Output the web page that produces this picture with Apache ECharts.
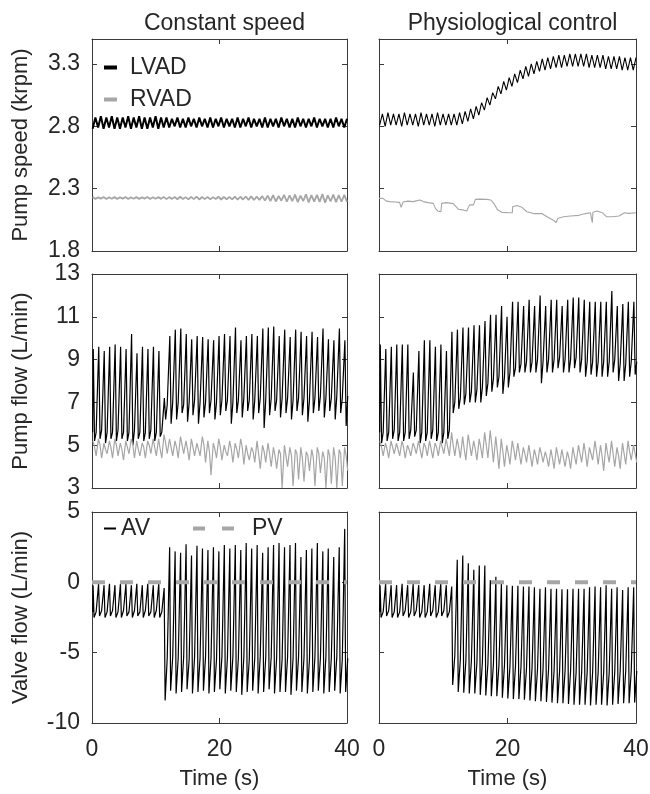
<!DOCTYPE html>
<html><head><meta charset="utf-8">
<script src="https://cdn.jsdelivr.net/npm/echarts@6.0.0/dist/echarts.min.js"></script>
<style>html,body{margin:0;padding:0;background:#fff}#c{width:650px;height:794px}</style>
</head><body><div id="c"></div>
<script>
// ---------------- data ----------------
const columnTitles = ['Constant speed', 'Physiological control'];
const rowNames = ['Pump speed (krpm)', 'Pump flow (L/min)', 'Valve flow (L/min)'];
const xTicks = [0, 20, 40];
const speedTicks = [1.8, 2.3, 2.8, 3.3];
const flowTicks = [3, 5, 7, 9, 11, 13];
const valveTicks = [-10, -5, 0, 5];

// beat onset times (s)
const beatT = [0.10,0.96,1.82,2.67,3.53,4.39,5.25,6.11,6.96,7.82,8.68,9.54,10.40,11.25,12.11,12.97,13.83,14.69,15.54,16.40,17.26,18.12,18.98,19.83,20.69,21.55,22.41,23.27,24.12,24.98,25.84,26.70,27.56,28.41,29.27,30.13,30.99,31.85,32.70,33.56,34.42,35.28,36.14,36.99,37.85,38.71,39.57];

// --- constant speed: pump speed (krpm), per beat high / low
const lvadSpdHiCS = [2.87,2.88,2.87,2.88,2.87,2.87,2.88,2.87,2.88,2.87,2.87,2.88,2.87,2.87,2.86,2.87,2.86,2.87,2.86,2.87,2.86,2.87,2.86,2.87,2.86,2.86,2.87,2.86,2.87,2.86,2.86,2.87,2.86,2.86,2.87,2.86,2.86,2.87,2.86,2.86,2.87,2.86,2.86,2.86,2.87,2.86,2.86];
const lvadSpdLoCS = [2.78,2.79,2.78,2.79,2.78,2.78,2.79,2.78,2.79,2.78,2.78,2.79,2.78,2.79,2.79,2.80,2.79,2.79,2.80,2.79,2.80,2.79,2.79,2.80,2.79,2.80,2.79,2.79,2.80,2.79,2.80,2.79,2.79,2.80,2.79,2.80,2.79,2.79,2.80,2.79,2.80,2.79,2.80,2.79,2.79,2.80,2.79];
const rvadSpdHiCS = [2.232,2.230,2.233,2.231,2.232,2.230,2.233,2.231,2.232,2.230,2.233,2.231,2.232,2.234,2.232,2.233,2.235,2.232,2.234,2.236,2.233,2.234,2.232,2.235,2.233,2.234,2.236,2.235,2.237,2.238,2.236,2.240,2.244,2.248,2.242,2.250,2.246,2.252,2.244,2.255,2.248,2.250,2.256,2.246,2.252,2.248,2.250];
const rvadSpdLoCS = [2.218,2.220,2.217,2.219,2.218,2.220,2.217,2.219,2.218,2.220,2.217,2.219,2.218,2.216,2.218,2.215,2.217,2.214,2.216,2.213,2.216,2.214,2.217,2.213,2.215,2.214,2.212,2.213,2.210,2.209,2.210,2.205,2.200,2.197,2.203,2.195,2.199,2.192,2.200,2.190,2.196,2.194,2.188,2.198,2.192,2.195,2.194];

// --- physiological control: pump speed
const lvadSpdHiPC = [2.90,2.91,2.90,2.90,2.91,2.90,2.90,2.91,2.90,2.90,2.91,2.90,2.90,2.90,2.91,2.92,2.94,2.96,2.99,3.03,3.07,3.12,3.16,3.19,3.22,3.25,3.28,3.30,3.32,3.34,3.35,3.36,3.37,3.37,3.38,3.38,3.38,3.38,3.37,3.37,3.37,3.36,3.36,3.36,3.35,3.35,3.35];
const lvadSpdLoPC = [2.81,2.80,2.81,2.81,2.80,2.81,2.81,2.80,2.81,2.81,2.80,2.81,2.81,2.81,2.81,2.82,2.84,2.86,2.89,2.93,2.97,3.02,3.06,3.09,3.12,3.15,3.18,3.20,3.22,3.24,3.25,3.26,3.27,3.27,3.28,3.28,3.28,3.28,3.27,3.27,3.27,3.26,3.26,3.26,3.25,3.25,3.25];
const rvadSpdTimePC = [0,0.6,1.15,1.7,2.45,3.2,3.45,3.5,3.75,4.5,5.3,6.35,6.9,7.65,8.45,8.8,9.2,9.65,9.75,10.5,11.55,12.35,13.0,13.65,13.95,14.1,14.7,14.95,15.0,15.7,16.75,17.4,17.9,18.45,19.1,20.4,20.75,20.8,21.45,22.25,23.0,24.05,25.35,26.15,27.2,27.55,27.85,28.75,29.8,31.1,32.15,32.9,33.1,33.2,33.3,33.55,33.95,34.75,35.4,36.3,37.35,38.2,38.9,40];
const rvadSpdPC = [2.222,2.222,2.20,2.196,2.193,2.19,2.15,2.15,2.193,2.20,2.196,2.209,2.196,2.188,2.182,2.14,2.12,2.115,2.182,2.188,2.18,2.135,2.13,2.12,2.11,2.17,2.17,2.17,2.214,2.216,2.214,2.209,2.18,2.13,2.11,2.107,2.107,2.155,2.165,2.15,2.115,2.10,2.10,2.075,2.045,2.027,2.062,2.075,2.081,2.086,2.10,2.107,2.107,2.027,2.11,2.115,2.12,2.107,2.075,2.075,2.081,2.107,2.102,2.107];

// --- constant speed: pump flow (L/min)
const lvadFlowPeakCS = [9.5,9.6,9.4,9.6,9.7,9.6,9.5,10.2,9.3,9.6,9.5,9.6,9.4,7.2,10.1,10.4,10.45,10.2,9.95,10.1,10.05,9.95,9.9,10.1,10.2,10.1,10.5,9.9,10.1,10.2,10.1,10.45,10.5,10.55,10.1,10.4,10.05,10.4,10.3,10.1,10.3,10.05,10.45,9.95,9.9,10.45,9.9];
const lvadFlowTroughCS = [5.2,5.3,5.1,5.3,5.2,5.3,5.2,5.0,5.3,5.2,5.3,5.2,5.4,6.2,6.0,6.2,6.5,6.1,6.4,6.0,6.3,6.5,6.2,6.4,6.6,6.0,6.5,6.3,6.6,6.2,6.5,5.8,6.4,6.6,6.3,6.5,6.2,6.6,6.4,6.1,6.5,6.6,6.3,6.6,6.2,6.5,5.9];
const lvadFlowBaseCS = [5.6,5.7,5.6,5.6,5.7,5.6,5.6,5.7,5.6,5.6,5.7,5.6,5.6,6.9,7.0,7.0,6.9,7.0,7.1,7.0,7.0,7.1,7.0,7.1,7.1,7.0,7.1,7.2,7.1,7.1,7.2,7.1,7.2,7.1,7.2,7.2,7.1,7.2,7.2,7.1,7.2,7.3,7.2,7.2,7.3,7.2,7.3];
const rvadFlowHiCS = [5.2,5.3,5.1,5.2,5.3,5.1,5.2,5.3,5.2,5.1,5.2,5.3,5.3,5.5,5.3,5.2,5.4,5.2,5.3,5.1,5.4,5.2,5.1,5.3,5.0,5.2,5.1,5.3,5.0,4.9,5.2,5.0,5.1,4.9,4.8,5.0,4.9,4.8,4.9,4.7,4.8,4.9,4.7,4.8,4.9,4.8,4.9];
const rvadFlowMidCS = [4.9,5.0,4.8,4.9,5.0,4.8,4.9,5.0,4.8,4.9,5.0,4.9,4.8,5.1,4.9,4.9,5.0,4.8,4.9,4.8,5.0,4.7,4.8,4.9,4.7,4.8,4.8,4.9,4.6,4.7,4.6,4.7,4.6,4.5,4.6,4.5,4.5,4.6,4.4,4.5,4.4,4.6,4.4,4.5,4.4,4.6,4.5];
const rvadFlowLoCS = [4.5,4.4,4.6,4.4,4.5,4.3,4.6,4.4,4.5,4.4,4.6,4.5,4.4,4.6,4.5,4.4,4.6,4.3,4.5,4.5,4.2,3.6,4.4,4.3,4.5,4.2,4.4,4.1,4.3,4.2,3.9,4.2,4.0,3.9,3.0,4.0,3.1,3.4,3.3,3.8,3.1,3.7,3.0,3.2,3.0,3.1,3.8];

// --- physiological control: pump flow
const lvadFlowPeakPC = [9.7,9.5,9.6,9.7,9.7,9.7,8.4,9.4,9.9,9.9,9.6,9.7,9.4,10.3,10.4,10.5,10.5,10.6,10.6,10.8,11.1,11.1,11.5,11.0,11.7,11.7,11.5,11.8,11.5,12.0,11.5,11.8,11.8,11.5,11.8,11.9,11.9,11.8,11.7,11.7,11.7,11.7,12.2,11.5,11.6,11.7,11.7];
const lvadFlowTroughPC = [5.1,5.2,5.3,5.2,5.2,5.3,5.4,5.1,5.2,5.3,5.2,5.1,5.3,6.5,6.7,6.9,7.0,7.0,7.0,7.3,7.5,7.7,7.4,7.7,8.2,8.4,8.4,8.4,8.4,7.9,8.4,8.4,8.6,8.4,8.4,8.6,8.4,8.2,8.3,8.2,8.2,8.2,8.4,8.0,8.0,8.2,8.3];
const lvadFlowBasePC = [5.6,5.6,5.7,5.6,5.6,5.7,5.7,5.6,5.6,5.7,5.6,5.6,5.7,7.0,7.2,7.4,7.5,7.6,7.7,7.9,8.1,8.2,8.2,8.4,8.6,8.8,8.9,8.9,9.0,8.9,9.0,9.0,9.1,9.0,9.0,9.1,9.0,8.9,8.9,8.9,8.9,8.9,9.0,8.8,8.8,8.9,8.9];
const rvadFlowHiPC = [5.2,5.1,5.2,5.1,5.2,5.0,5.1,5.2,5.1,5.2,5.1,5.2,5.3,5.6,5.3,5.4,5.5,5.2,5.3,5.6,5.7,5.4,5.3,5.0,5.2,5.1,4.9,5.0,4.8,4.9,4.7,4.8,4.9,4.8,4.7,4.9,5.0,5.1,4.9,5.2,5.0,5.1,5.2,4.9,5.1,5.2,5.0];
const rvadFlowMidPC = [4.9,4.8,4.9,4.8,4.9,4.8,4.9,4.8,4.9,4.8,4.9,4.9,4.9,5.0,4.9,4.8,5.0,4.8,4.9,5.0,5.0,4.7,4.7,4.6,4.8,4.6,4.6,4.5,4.5,4.6,4.4,4.4,4.5,4.4,4.4,4.5,4.6,4.6,4.6,4.7,4.5,4.6,4.6,4.5,4.6,4.7,4.6];
const rvadFlowLoPC = [4.5,4.4,4.6,4.5,4.4,4.5,4.6,4.4,4.5,4.4,4.5,4.6,4.5,4.5,4.4,4.3,4.5,4.3,4.4,4.4,4.2,3.9,4.0,4.1,4.3,4.1,4.2,4.0,4.1,4.2,4.0,3.9,4.1,4.0,3.9,4.1,4.2,4.0,4.3,4.1,3.8,4.2,4.0,3.9,4.1,4.3,4.2];

// --- constant speed: valve flow (L/min)
const avPeakCS = [-0.2,-0.1,-0.2,-0.1,-0.2,-0.1,-0.1,-0.2,-0.1,-0.2,-0.1,-0.2,-0.1,-0.4,2.5,2.2,2.1,2.7,1.9,2.6,2.4,2.3,2.5,2.2,2.65,2.4,2.65,2.3,2.8,2.4,2.65,2.1,2.5,2.65,2.8,2.5,2.65,2.8,1.8,2.3,2.4,2.8,2.2,2.4,1.8,2.5,3.8];
const avTroughCS = [-2.5,-2.4,-2.5,-2.4,-2.5,-2.5,-2.4,-2.5,-2.4,-2.5,-2.4,-2.5,-2.5,-8.4,-7.7,-7.9,-7.8,-7.6,-7.9,-7.8,-7.7,-7.9,-7.8,-7.6,-7.9,-7.7,-7.8,-8.0,-7.8,-7.7,-7.9,-7.8,-7.6,-7.9,-7.8,-7.8,-8.0,-7.7,-7.8,-7.9,-7.8,-7.7,-7.9,-7.8,-7.7,-7.9,-7.8];
const avBaseCS = [-2.1,-2.0,-2.1,-2.0,-2.1,-2.0,-2.1,-2.0,-2.1,-2.0,-2.1,-2.0,-2.1,-5.4,-5.3,-5.4,-5.3,-5.5,-5.3,-5.4,-5.3,-5.4,-5.5,-5.3,-5.4,-5.3,-5.4,-5.3,-5.5,-5.4,-5.3,-5.4,-5.3,-5.4,-5.5,-5.3,-5.4,-5.3,-5.4,-5.5,-5.3,-5.4,-5.3,-5.4,-5.3,-5.5,-5.4];
// --- physiological control: valve flow
const avPeakPC = [-0.2,-0.1,-0.2,-0.2,-0.1,-0.2,-0.1,-0.2,-0.2,-0.1,-0.2,-0.1,-0.2,-0.3,1.6,1.9,1.35,0.9,1.2,1.2,0.15,0.4,-0.1,-0.2,-0.25,-0.25,-0.3,-0.3,-0.35,-0.45,-0.35,-0.45,-0.45,-0.5,-0.5,-0.45,-0.45,-0.45,-0.35,-0.3,-0.35,-0.2,-0.45,-0.35,-0.55,-0.35,-0.35];
const avTroughPC = [-2.5,-2.4,-2.5,-2.5,-2.4,-2.5,-2.4,-2.5,-2.5,-2.4,-2.5,-2.4,-2.5,-7.3,-7.8,-7.85,-7.9,-7.9,-8.0,-8.05,-8.1,-8.1,-8.2,-8.25,-8.3,-8.3,-8.35,-8.4,-8.45,-8.45,-8.5,-8.55,-8.6,-8.6,-8.65,-8.7,-8.7,-8.7,-8.75,-8.7,-8.7,-8.75,-8.7,-8.65,-8.6,-8.6,-8.55];
const avBasePC = [-2.1,-2.0,-2.1,-2.1,-2.0,-2.1,-2.0,-2.1,-2.1,-2.0,-2.1,-2.0,-2.1,-5.2,-5.5,-5.6,-5.6,-5.7,-5.7,-5.8,-5.8,-5.9,-5.9,-6.0,-6.0,-6.0,-6.1,-6.1,-6.2,-6.2,-6.2,-6.3,-6.3,-6.3,-6.3,-6.4,-6.4,-6.4,-6.4,-6.4,-6.4,-6.4,-6.4,-6.3,-6.3,-6.3,-6.3];
// pulmonary valve flow (closed, 0)
const pvTime = [0, 40];
const pvFlow = [0, 0];

// ---------------- helpers to assemble line data ----------------
function pulse(T, base, peak, trough, dp, dt, db) {
  const out = []; let prev = base[0];
  for (let i = 0; i < T.length; i++) {
    out.push([T[i], prev], [T[i] + dp, peak[i]], [T[i] + dt, trough[i]], [T[i] + db, base[i]]);
    prev = base[i];
  }
  return out;
}
function zig(T, a, b, d) {
  const out = [];
  for (let i = 0; i < T.length; i++) out.push([T[i], a[i]], [T[i] + d, b[i]]);
  return out;
}
function wob(T, hi, mid, lo) {
  const out = [];
  for (let i = 0; i < T.length; i++) out.push([T[i] + 0.05, hi[i]], [T[i] + 0.3, mid[i]], [T[i] + 0.55, lo[i]]);
  return out;
}
function pairs(t, v) { return t.map((x, i) => [x, v[i]]); }

// ---------------- chart ----------------
const FONT = 'Liberation Sans';
const TXT = '#262626';
const AX = '#3a3a3a';
const BLACK = '#000000';
const GRAY = '#a6a6a6';
const chart = echarts.init(document.getElementById('c'), null, {renderer: 'canvas'});

const gridPos = [
  {left: 92, top: 39, width: 255, height: 212}, {left: 379, top: 39, width: 257, height: 212},
  {left: 92, top: 274, width: 255, height: 214}, {left: 379, top: 274, width: 257, height: 214},
  {left: 92, top: 512, width: 255, height: 211}, {left: 379, top: 512, width: 257, height: 211}
];
const rowCfg = [
  {min: 1.8, max: 3.5, ticks: speedTicks, fmt: v => v.toFixed(1)},
  {min: 3, max: 13, ticks: flowTicks, fmt: v => String(v)},
  {min: -10, max: 5, ticks: valveTicks, fmt: v => String(v)}
];
const grid = [], xAxis = [], yAxis = [];
for (let p = 0; p < 6; p++) {
  const row = Math.floor(p / 2), col = p % 2;
  grid.push(Object.assign({containLabel: false, outerBoundsMode: 'none'}, gridPos[p]));
  const line = {show: true, onZero: false, lineStyle: {color: AX, width: 1}};
  const tick = {show: true, inside: true, length: 5, lineStyle: {color: AX, width: 1}};
  const bottom = row === 2;
  xAxis.push({
    type: 'value', gridIndex: p, position: 'bottom', min: 0, max: 40, interval: 20,
    axisLine: line, axisTick: tick, splitLine: {show: false},
    axisLabel: {show: bottom, margin: 15, fontSize: 23, color: TXT, fontFamily: FONT, customValues: xTicks},
    name: bottom ? 'Time (s)' : '', nameLocation: 'middle', nameGap: 45,
    nameTextStyle: {fontSize: 22, color: TXT, fontFamily: FONT}
  });
  xAxis.push({
    type: 'value', gridIndex: p, position: 'top', min: 0, max: 40, interval: 20,
    axisLine: line, axisTick: tick, splitLine: {show: false}, axisLabel: {show: false}
  });
  const rc = rowCfg[row];
  yAxis.push({
    type: 'value', gridIndex: p, position: 'left', min: rc.min, max: rc.max,
    axisLine: line, axisTick: Object.assign({customValues: rc.ticks}, tick), splitLine: {show: false},
    axisLabel: {show: col === 0, customValues: rc.ticks, formatter: rc.fmt, margin: 12, fontSize: 23, color: TXT, fontFamily: FONT},
    name: col === 0 ? rowNames[row] : '', nameLocation: 'middle', nameRotate: 90, nameGap: 60,
    nameTextStyle: {fontSize: 22, color: TXT, fontFamily: FONT}
  });
  yAxis.push({
    type: 'value', gridIndex: p, position: 'right', min: rc.min, max: rc.max,
    axisLine: line, axisTick: Object.assign({customValues: rc.ticks}, tick), splitLine: {show: false},
    axisLabel: {show: false, customValues: rc.ticks}
  });
}

function ser(name, p, data, color, width, extra) {
  return Object.assign({
    type: 'line', name: name, xAxisIndex: 2 * p, yAxisIndex: 2 * p, data: data,
    symbol: 'none', showSymbol: false, silent: true, clip: true, animation: false,
    lineStyle: {color: color, width: width}, itemStyle: {color: color}
  }, extra || {});
}

const series = [
  ser('LVAD', 0, zig(beatT, lvadSpdLoCS, lvadSpdHiCS, 0.43), BLACK, 2),
  ser('RVAD', 0, zig(beatT, rvadSpdHiCS, rvadSpdLoCS, 0.43), GRAY, 1.8),
  ser('LVAD', 1, zig(beatT, lvadSpdLoPC, lvadSpdHiPC, 0.43), BLACK, 1.1),
  ser('RVAD', 1, pairs(rvadSpdTimePC, rvadSpdPC), GRAY, 1.1),
  ser('LVAD', 2, pulse(beatT, lvadFlowBaseCS, lvadFlowPeakCS, lvadFlowTroughCS, 0.1, 0.3, 0.55), BLACK, 1.2),
  ser('RVAD', 2, wob(beatT, rvadFlowHiCS, rvadFlowMidCS, rvadFlowLoCS), GRAY, 1.2),
  ser('LVAD', 3, pulse(beatT, lvadFlowBasePC, lvadFlowPeakPC, lvadFlowTroughPC, 0.1, 0.3, 0.55), BLACK, 1.2),
  ser('RVAD', 3, wob(beatT, rvadFlowHiPC, rvadFlowMidPC, rvadFlowLoPC), GRAY, 1.2),
  ser('AV', 4, pulse(beatT, avBaseCS, avPeakCS, avTroughCS, 0.07, 0.22, 0.55), BLACK, 1.2),
  ser('PV', 4, pairs(pvTime, pvFlow), GRAY, 4, {lineStyle: {color: GRAY, width: 4, type: [13, 15]}}),
  ser('AV', 5, pulse(beatT, avBasePC, avPeakPC, avTroughPC, 0.07, 0.22, 0.55), BLACK, 1.2),
  ser('PV', 5, pairs(pvTime, pvFlow), GRAY, 4, {lineStyle: {color: GRAY, width: 4, type: [13, 15]}})
];

const legTxt = {fontSize: 23, color: TXT, fontFamily: FONT};
const option = {
  animation: false,
  backgroundColor: '#ffffff',
  textStyle: {fontFamily: FONT},
  title: [
    {text: columnTitles[0], left: 219.5, top: 7, textAlign: 'center', textStyle: {fontSize: 23, fontWeight: 'normal', color: TXT, fontFamily: FONT}},
    {text: columnTitles[1], left: 507.5, top: 7, textAlign: 'center', textStyle: {fontSize: 23, fontWeight: 'normal', color: TXT, fontFamily: FONT}}
  ],
  legend: [
    {selectedMode: false, orient: 'vertical', left: 104, top: 56, padding: 0, itemWidth: 13, itemHeight: 4, itemGap: 9, icon: 'rect',
     data: ['LVAD', 'RVAD'], textStyle: Object.assign({padding: [0, 0, 0, 8]}, legTxt)},
    {selectedMode: false, left: 104, top: 517, padding: 0, itemWidth: 12, itemHeight: 2, icon: 'rect', data: ['AV'], textStyle: legTxt},
    {selectedMode: false, left: 193, top: 517, padding: 0, itemWidth: 41, itemHeight: 4, icon: 'path://M0,0h12v4h-12z M29,0h12v4h-12z',
     data: ['PV'], textStyle: Object.assign({padding: [0, 0, 0, 13]}, legTxt)}
  ],
  grid: grid, xAxis: xAxis, yAxis: yAxis, series: series
};
chart.setOption(option);
</script></body></html>
